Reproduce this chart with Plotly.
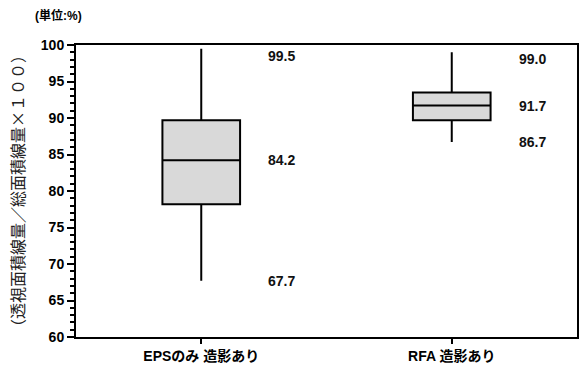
import plotly.graph_objects as go

# Box statistics (unit: %)
categories = ["EPSのみ 造影あり", "RFA 造影あり"]
upper = [99.5, 99.0]
q3 = [89.7, 93.5]
median = [84.2, 91.7]
q1 = [78.2, 89.7]
lower = [67.7, 86.7]
tick_vals = [60, 65, 70, 75, 80, 85, 90, 95, 100]

FONT = "Liberation Sans, Arial, Noto Sans CJK JP"

fig = go.Figure()
fig.add_trace(go.Box(
    x=[0, 1],
    q1=q1, median=median, q3=q3,
    lowerfence=lower, upperfence=upper,
    fillcolor="#d9d9d9",
    line=dict(color="black", width=2),
    whiskerwidth=0,
    width=0.31,
    boxpoints=False,
    hoverinfo="skip",
    showlegend=False,
))

# Value labels to the right of each box
for i in range(len(categories)):
    for v, shift in ((upper[i], -7), (median[i], 0), (lower[i], 0)):
        fig.add_annotation(
            x=i + 0.26, y=v, yshift=shift,
            text=f"<b>{v:.1f}</b>", showarrow=False,
            xanchor="left", yanchor="middle",
            font=dict(family=FONT, size=14, color="#111"),
        )

fig.add_annotation(
    xref="paper", yref="paper", x=-0.048, y=1.0, yshift=30, xshift=7,
    text="<b>(単位:%)</b>", showarrow=False, xanchor="center", yanchor="middle",
    font=dict(family="Liberation Sans, Noto Sans CJK JP", size=12, color="black"),
)

fig.update_layout(
    width=582, height=369,
    margin=dict(l=76, r=3, t=45, b=32),
    paper_bgcolor="white", plot_bgcolor="white",
    font=dict(family=FONT, color="black"),
    xaxis=dict(
        range=[-0.5, 1.5],
        tickvals=[0, 1],
        ticktext=[f"<b>{c}</b>" for c in categories],
        tickfont=dict(family=FONT, size=14, color="black"),
        ticks="outside", ticklen=5, tickwidth=2, tickcolor="black",
        showline=True, linecolor="black", linewidth=2, mirror=True,
        showgrid=False, zeroline=False,
    ),
    yaxis=dict(
        range=[60, 100],
        tickvals=tick_vals,
        ticktext=[f"<b>{t}</b>" for t in tick_vals],
        tickfont=dict(family=FONT, size=14, color="black"),
        ticks="outside", ticklen=7, tickwidth=2, tickcolor="black",
        minor=dict(dtick=1, ticks="outside", ticklen=4, tickwidth=1.5, tickcolor="black", showgrid=False),
        showline=True, linecolor="black", linewidth=2, mirror=True,
        showgrid=False, zeroline=False,
        title=dict(
            text="（透視面積線量／総面積線量×１００）",
            font=dict(family="Noto Sans CJK JP", size=16, color="#222"),
            standoff=12,
        ),
    ),
)

fig.write_html("out.html")
